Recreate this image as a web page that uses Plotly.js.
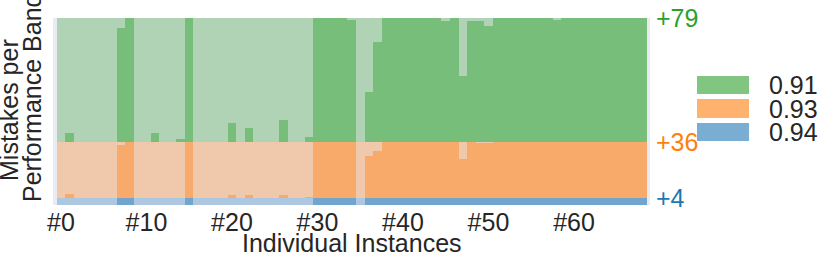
<!DOCTYPE html>
<html><head><meta charset="utf-8">
<script src="https://cdn.plot.ly/plotly-3.0.1.min.js"></script>
<style>html,body{margin:0;padding:0;background:#fff}#chart{width:830px;height:258px}</style>
</head><body><div id="chart"></div>
<script>
// ---- data ----
const instances = [0,1,2,3,4,5,6,7,8,9,10,11,12,13,14,15,16,17,18,19,20,21,22,23,24,25,26,27,28,29,30,31,32,33,34,35,36,37,38,39,40,41,42,43,44,45,46,47,48,49,50,51,52,53,54,55,56,57,58,59,60,61,62,63,64,65,66,67,68];
const bandNames = ["0.94", "0.93", "0.91"];          // bottom -> top
const bandMistakes = ["+4", "+36", "+79"];
const bandWeight = [1, 8.4, 18.4];                     // relative band heights
const tickInstances = [0,10,20,30,40,50,60];
const tickLabels = ["#0","#10","#20","#30","#40","#50","#60"];
// share of each band marked as mistake for every instance
const mistakeBlue = [0,0,0,0,0,0,0,1,1,0,0,0,0,0,0,1,0,0,0,0,0,0,0,0,0,0,0,0,0,0,1,1,1,1,1,0,1,1,1,1,1,1,1,1,1,1,1,1,1,1,1,1,1,1,1,1,1,1,1,1,1,1,1,1,1,1,1,1,1];
const mistakeOrange = [0,0.077,0,0,0,0,0,0.95,1,0,0,0,0,0,0,1,0,0,0,0,0.053,0,0.053,0,0,0,0.06,0,0,0.024,1,1,1,1,1,0,0.74,0.84,1,1,1,1,1,1,1,1,1,0.70,1,0.98,0.98,1,1,1,1,1,1,1,1,1,1,1,1,1,1,1,1,1,1];
const mistakeGreen = [0,0.073,0,0,0,0,0,0.92,1,0,0,0.073,0,0,0.024,1,0,0,0,0,0.15,0,0.11,0,0,0,0.176,0,0,0.035,1,1,1,1,0.986,0,0.405,0.81,1,1,1,1,1,1,1,0.973,1,0.53,0.973,0.973,0.935,1,1,1,1,1,1,1,0.986,1,1,1,1,1,1,1,1,1,1];

// ---- styles ----
const FONT = "Liberation Sans, Arial, sans-serif";
const TXT = "#262626";
const FS = 25;
const rgb = [[31,119,180],[255,127,14],[44,160,44]];
const rgba = (c, a) => `rgba(${c[0]},${c[1]},${c[2]},${a})`;
const fracs = [mistakeBlue, mistakeOrange, mistakeGreen];

const traces = [];
let bottom = 0;
const tops = [];
for (let b = 0; b < 3; b++) {
  const w = bandWeight[b];
  const f = fracs[b];
  traces.push({type:"bar", x:instances, y:f.map(v=>v*w), base:instances.map(()=>bottom),
    width:1, marker:{color:rgba(rgb[b],0.6), line:{width:0}}, hoverinfo:"skip", showlegend:false});
  traces.push({type:"bar", x:instances, y:f.map(v=>(1-v)*w), base:f.map(v=>bottom+v*w),
    width:1, marker:{color:rgba(rgb[b],0.3), line:{width:0}}, hoverinfo:"skip", showlegend:false});
  bottom += w;
  tops.push(bottom);
}
const total = bottom;

// pixel helpers for legend / titles (plot area 53..650 x 18..205)
const L = 53, R = 650, T = 18, B = 205;
const px = x => (x - L) / (R - L);
const py = y => (B - y) / (B - T);

const shapes = [];
const annotations = [];
const legY = [[76,94],[99,118],[123,141]];
const legOrder = [2,1,0];
legOrder.forEach((b, i) => {
  shapes.push({type:"rect", xref:"paper", yref:"paper", x0:px(697), x1:px(749), y0:py(legY[i][1]), y1:py(legY[i][0]),
    fillcolor:rgba(rgb[b],0.6), line:{width:0}});
  annotations.push({xref:"paper", yref:"paper", x:px(767), y:py((legY[i][0]+legY[i][1])/2), xanchor:"left", yanchor:"middle",
    text:bandNames[b], showarrow:false, font:{family:FONT, size:FS, color:TXT}});
});
// right-hand band totals
tops.forEach((t, b) => {
  annotations.push({xref:"paper", yref:"y", x:px(654), y:t, xanchor:"left", yanchor:"middle",
    text:bandMistakes[b], showarrow:false, font:{family:FONT, size:FS, color:rgba(rgb[b],1)}});
});
annotations.push({xref:"paper", yref:"paper", x:px(9), y:py(110), xanchor:"center", yanchor:"middle", textangle:-90,
  text:"Mistakes per", showarrow:false, font:{family:FONT, size:FS, color:TXT}});
annotations.push({xref:"paper", yref:"paper", x:px(32), y:py(98), xanchor:"center", yanchor:"middle", textangle:-90,
  text:"Performance Band", showarrow:false, font:{family:FONT, size:FS, color:TXT}});
annotations.push({xref:"paper", yref:"paper", x:0.5, y:py(243), xanchor:"center", yanchor:"middle",
  text:"Individual Instances", showarrow:false, font:{family:FONT, size:FS, color:TXT}});

const layout = {
  width:830, height:258,
  margin:{l:L, r:830-R, t:T, b:258-B, pad:0},
  paper_bgcolor:"#ffffff", plot_bgcolor:"#eaeaf2",
  barmode:"overlay", bargap:0, showlegend:false,
  font:{family:FONT, color:TXT},
  xaxis:{range:[-0.93, 68.89], tickvals:tickInstances, ticktext:tickLabels, showgrid:false, zeroline:false,
    ticks:"", showline:false, tickfont:{family:FONT, size:FS, color:TXT}, ticklabelstandoff:0, fixedrange:true},
  yaxis:{range:[0,total], showticklabels:false, showgrid:false, zeroline:false, ticks:"", showline:false},
  shapes, annotations
};
Plotly.newPlot("chart", traces, layout, {staticPlot:true, displayModeBar:false});
</script></body></html>
